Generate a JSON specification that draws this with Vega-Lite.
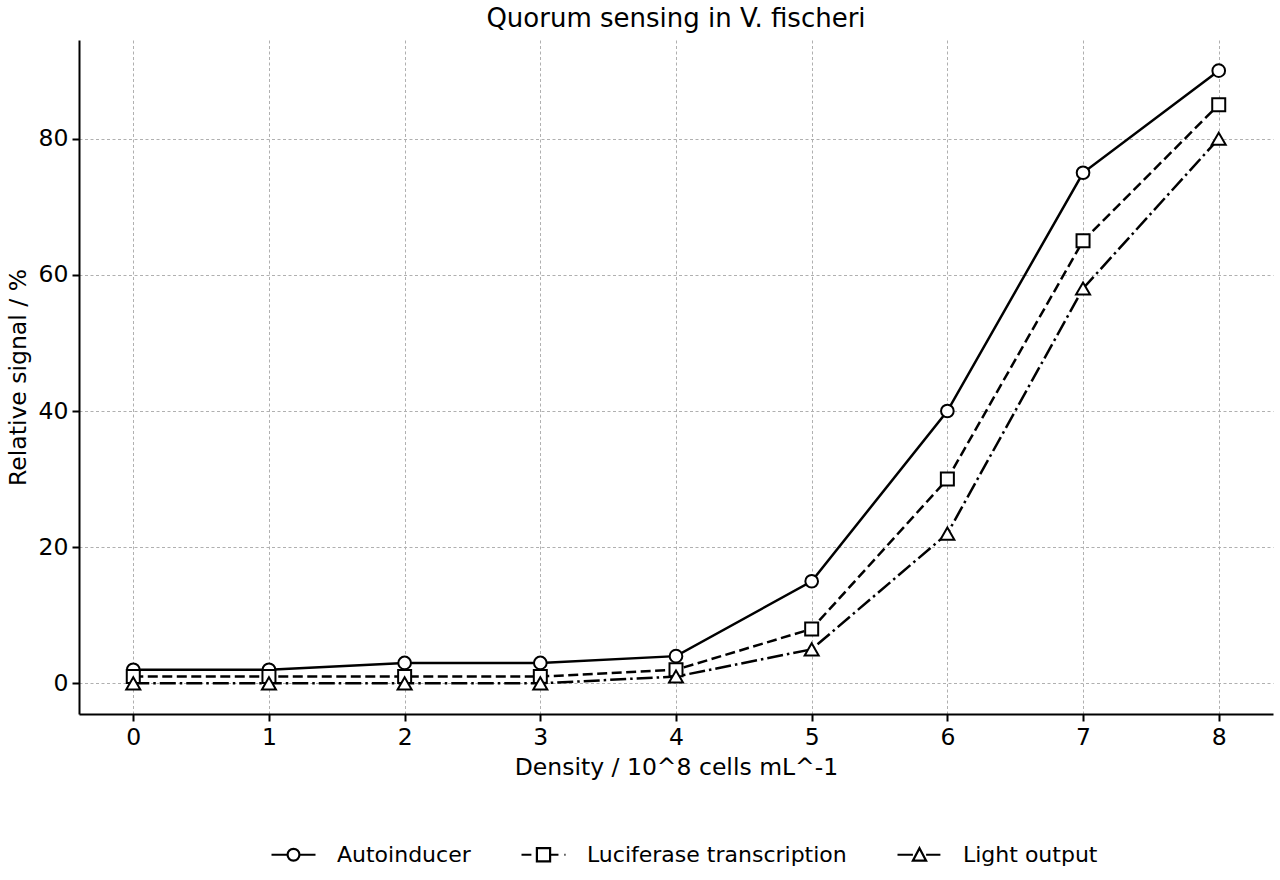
{
  "$schema": "https://vega.github.io/schema/vega-lite/v6.json",
  "width": 1194,
  "height": 674,
  "autosize": {"type": "none"},
  "padding": {"left": 79, "top": 40, "right": 7, "bottom": 166},
  "background": "white",
  "title": {
    "text": "Quorum sensing in V. fischeri",
    "font": "DejaVu Sans",
    "fontSize": 26,
    "fontWeight": "normal",
    "color": "black",
    "offset": 8
  },
  "data": {
    "values": [
      {"density": 0, "series": "Autoinducer", "signal": 2},
      {"density": 1, "series": "Autoinducer", "signal": 2},
      {"density": 2, "series": "Autoinducer", "signal": 3},
      {"density": 3, "series": "Autoinducer", "signal": 3},
      {"density": 4, "series": "Autoinducer", "signal": 4},
      {"density": 5, "series": "Autoinducer", "signal": 15},
      {"density": 6, "series": "Autoinducer", "signal": 40},
      {"density": 7, "series": "Autoinducer", "signal": 75},
      {"density": 8, "series": "Autoinducer", "signal": 90},
      {"density": 0, "series": "Luciferase transcription", "signal": 1},
      {"density": 1, "series": "Luciferase transcription", "signal": 1},
      {"density": 2, "series": "Luciferase transcription", "signal": 1},
      {"density": 3, "series": "Luciferase transcription", "signal": 1},
      {"density": 4, "series": "Luciferase transcription", "signal": 2},
      {"density": 5, "series": "Luciferase transcription", "signal": 8},
      {"density": 6, "series": "Luciferase transcription", "signal": 30},
      {"density": 7, "series": "Luciferase transcription", "signal": 65},
      {"density": 8, "series": "Luciferase transcription", "signal": 85},
      {"density": 0, "series": "Light output", "signal": 0},
      {"density": 1, "series": "Light output", "signal": 0},
      {"density": 2, "series": "Light output", "signal": 0},
      {"density": 3, "series": "Light output", "signal": 0},
      {"density": 4, "series": "Light output", "signal": 1},
      {"density": 5, "series": "Light output", "signal": 5},
      {"density": 6, "series": "Light output", "signal": 22},
      {"density": 7, "series": "Light output", "signal": 58},
      {"density": 8, "series": "Light output", "signal": 80}
    ]
  },
  "encoding": {
    "x": {
      "field": "density",
      "type": "quantitative",
      "scale": {"domain": [-0.4, 8.4], "nice": false, "zero": false},
      "axis": {
        "title": "Density / 10^8 cells mL^-1",
        "values": [0, 1, 2, 3, 4, 5, 6, 7, 8],
        "format": "d",
        "titlePadding": 7
      }
    },
    "y": {
      "field": "signal",
      "type": "quantitative",
      "scale": {"domain": [-4.5, 94.5], "nice": false, "zero": false},
      "axis": {
        "title": "Relative signal / %",
        "values": [0, 20, 40, 60, 80],
        "titlePadding": 8
      }
    }
  },
  "layer": [
    {
      "transform": [{"filter": "datum.series === 'Autoinducer'"}],
      "mark": {"type": "line", "color": "black", "strokeWidth": 2.5}
    },
    {
      "transform": [{"filter": "datum.series === 'Autoinducer'"}],
      "mark": {"type": "point", "shape": "circle", "filled": true, "fill": "white", "stroke": "black", "strokeWidth": 2, "size": 160, "opacity": 1}
    },
    {
      "transform": [{"filter": "datum.series === 'Luciferase transcription'"}],
      "mark": {"type": "line", "color": "black", "strokeWidth": 2.5, "strokeDash": [10, 4.5]}
    },
    {
      "transform": [{"filter": "datum.series === 'Luciferase transcription'"}],
      "mark": {"type": "point", "shape": "square", "filled": true, "fill": "white", "stroke": "black", "strokeWidth": 2, "size": 169, "opacity": 1}
    },
    {
      "transform": [{"filter": "datum.series === 'Light output'"}],
      "mark": {"type": "line", "color": "black", "strokeWidth": 2.5, "strokeDash": [16, 4, 2.5, 4]}
    },
    {
      "transform": [{"filter": "datum.series === 'Light output'"}],
      "mark": {"type": "point", "shape": "triangle-up", "filled": true, "fill": "white", "stroke": "black", "strokeWidth": 2, "size": 196, "opacity": 1}
    },
    {
      "transform": [{"filter": "datum.signal < -1000"}],
      "mark": {"type": "point", "filled": false, "color": "black", "strokeWidth": 2.2, "size": 1936, "opacity": 1},
      "encoding": {
        "shape": {
          "field": "series",
          "type": "nominal",
          "scale": {
            "domain": ["Autoinducer", "Luciferase transcription", "Light output"],
            "range": [
              "M-1,0L-0.27,0M0.27,0L1,0M-0.27,0A0.27,0.27,0,1,1,0.27,0A0.27,0.27,0,1,1,-0.27,0Z",
              "M-1,0L-0.55,0M0.3,0L0.68,0M0.95,0L1,0M-0.3,-0.3L0.3,-0.3L0.3,0.3L-0.3,0.3Z",
              "M-1,0L-0.3,0M0.3,0L0.95,0M0,-0.3L0.3,0.27L-0.3,0.27Z"
            ]
          },
          "legend": {
            "title": null,
            "orient": "none",
            "direction": "horizontal",
            "legendX": 191,
            "legendY": 791,
            "columnPadding": 46,
            "labelOffset": 20,
            "labelLimit": 500,
            "symbolSize": 1936,
            "symbolStrokeWidth": 2.2,
            "symbolStrokeColor": "black",
            "symbolOpacity": 1
          }
        }
      }
    }
  ],
  "config": {
    "view": {"stroke": null},
    "axis": {
      "domainColor": "black",
      "domainWidth": 2,
      "tickColor": "black",
      "tickWidth": 2,
      "tickSize": 7,
      "labelColor": "black",
      "labelFont": "DejaVu Sans",
      "labelFontSize": 23.5,
      "labelPadding": 4,
      "titleColor": "black",
      "titleFont": "DejaVu Sans",
      "titleFontSize": 23.5,
      "titleFontWeight": "normal",
      "grid": true,
      "gridColor": "#b0b0b0",
      "gridWidth": 1,
      "gridDash": [3, 2.5]
    },
    "legend": {
      "labelFont": "DejaVu Sans",
      "labelFontSize": 22,
      "labelColor": "black"
    }
  }
}
